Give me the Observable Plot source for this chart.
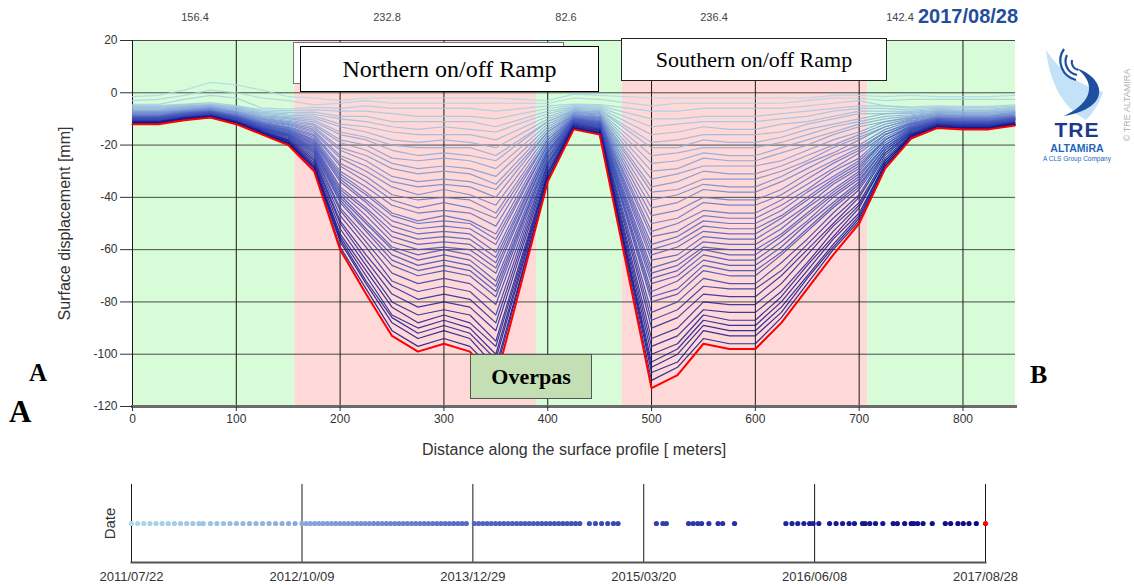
<!DOCTYPE html>
<html><head><meta charset="utf-8">
<script src="https://cdn.jsdelivr.net/npm/d3@7"></script>
<script src="https://cdn.jsdelivr.net/npm/@observablehq/plot@0.6"></script>
<style>
body{margin:0;background:#fff;}
#wrap{position:relative;width:1134px;height:585px;overflow:hidden;font-family:"Liberation Sans",Arial,sans-serif;background:#fff;}
#main{position:absolute;left:0;top:0;}
#timeline{position:absolute;left:0;top:460px;}
.seg{position:absolute;top:11px;font-size:11px;color:#444;transform:translateX(-50%);white-space:nowrap;}
#curdate{position:absolute;left:918px;top:5px;font:bold 20px "Liberation Sans",Arial,sans-serif;color:#1f4e9a;white-space:nowrap;}
.box{position:absolute;box-sizing:border-box;display:flex;align-items:center;justify-content:center;font-family:"Liberation Serif","Times New Roman",serif;color:#000;white-space:nowrap;}
.letter{position:absolute;font-family:"Liberation Serif","Times New Roman",serif;font-weight:bold;color:#000;line-height:1;}
</style></head>
<body><div id="wrap">
<div id="main"></div>
<div id="timeline"></div>
<div class="seg" style="left:195px">156.4</div>
<div class="seg" style="left:387px">232.8</div>
<div class="seg" style="left:566px">82.6</div>
<div class="seg" style="left:714px">236.4</div>
<div class="seg" style="left:900px">142.4</div>
<div id="curdate">2017/08/28</div>
<div class="box" style="left:293px;top:42px;width:271px;height:42px;border:1px solid #777;background:#fff;"></div>
<div class="box" style="left:300px;top:46px;width:299px;height:46px;border:1.5px solid #000;background:#fff;font-size:24px;">Northern on/off Ramp</div>
<div class="box" style="left:621px;top:38px;width:266px;height:43px;border:1px solid #222;background:#fff;font-size:22px;">Southern on/off Ramp</div>
<div class="box" style="left:470px;top:354px;width:122px;height:45px;border:1px solid #555;background:#c5dfb5;font-size:22px;font-weight:bold;">Overpas</div>
<div class="letter" style="left:29px;top:360px;font-size:25px;">A</div>
<div class="letter" style="left:9px;top:396px;font-size:31px;">A</div>
<div class="letter" style="left:1030px;top:362px;font-size:26px;">B</div>
<svg style="position:absolute;left:1020px;top:30px" width="114" height="140" viewBox="0 0 114 140">
  <path d="M26,20 C30,55 44,78 66,90 C74,82 80,72 83,62 C62,56 40,42 26,20 Z" fill="#c3e2f7"/>
  <path d="M56,38 C86,48 92,78 44,86 C74,72 76,52 56,38 Z" fill="#1f4fa0"/>
  <path d="M52,30 A8,8 0 0 0 58,40" fill="none" stroke="#1f4fa0" stroke-width="2.2"/>
  <path d="M47,25 A14,14 0 0 0 57,45" fill="none" stroke="#1f4fa0" stroke-width="2.2"/>
  <path d="M44,19 A20,20 0 0 0 56,50" fill="none" stroke="#1f4fa0" stroke-width="2.2"/>
  <text x="57" y="107" text-anchor="middle" font-family="Liberation Sans, Arial" font-weight="bold" font-size="21" fill="#1b3a8c" letter-spacing="1">TRE</text>
  <text x="57" y="122" text-anchor="middle" font-family="Liberation Sans, Arial" font-weight="bold" font-size="10.5" fill="#2466b8">ALTAMiRA</text>
  <text x="57" y="131" text-anchor="middle" font-family="Liberation Sans, Arial" font-size="6.5" fill="#2466b8">A CLS Group Company</text>
  <text transform="translate(110,75) rotate(-90)" text-anchor="middle" font-family="Liberation Sans, Arial" font-size="9" fill="#b3b3b3">© TRE ALTAMIRA</text>
</svg>
</div>
<script>
// ---------- data ----------
const segmentLengths = [156.4, 232.8, 82.6, 236.4, 142.4];
const segmentKinds = ["stable", "ramp", "stable", "ramp", "stable"];
const distanceTicks = [0, 100, 200, 300, 400, 500, 600, 700, 800];
const displacementTicks = [20, 0, -20, -40, -60, -80, -100, -120];
const dateTicks = ["2011-07-22", "2012-10-09", "2013-12-29", "2015-03-20", "2016-06-08", "2017-08-28"];

const distances = [0,25,50,75,100,125,150,175,200,225,250,275,300,325,350,400,425,450,500,525,550,575,600,625,650,675,700,725,750,775,800,825,850];

const profileDates = ["2011-07-22","2011-09-08","2011-10-26","2011-12-13","2012-01-25","2012-03-18","2012-05-08","2012-06-28","2012-08-18","2012-10-09",
"2012-11-22","2013-01-05","2013-02-18","2013-04-03","2013-05-17","2013-06-30","2013-08-13","2013-09-26","2013-11-09","2013-12-12",
"2014-01-24","2014-03-09","2014-04-22","2014-06-05","2014-07-19","2014-08-21","2014-09-23","2014-10-29","2014-11-30","2014-12-16",
"2015-01-12","2015-05-18","2015-09-06","2016-04-10","2016-06-04","2016-08-03","2016-10-11","2016-12-03","2017-01-29","2017-03-18",
"2017-06-17","2017-08-28"];

// displacement [mm] at each distance (rows) for each profile date (columns)
const displacementAtDistance = [
[-1.5,-3,-4.4,-4.9,-5.3,-5.6,-5.9,-6.2,-6.5,-6.8,-7.1,-7.3,-7.5,-7.7,-8,-8.2,-8.4,-8.6,-8.8,-8.9,-9.1,-9.2,-9.4,-9.5,-9.6,-9.8,-9.9,-10,-10.2,-10.3,-10.4,-10.6,-10.8,-10.9,-11.1,-11.3,-11.4,-11.5,-11.6,-11.7,-11.9,-12],
[-1,-2.5,-4.4,-4.9,-5.3,-5.6,-5.9,-6.2,-6.5,-6.8,-7.1,-7.3,-7.5,-7.7,-8,-8.2,-8.4,-8.6,-8.8,-8.9,-9.1,-9.2,-9.4,-9.5,-9.6,-9.8,-9.9,-10,-10.2,-10.3,-10.4,-10.6,-10.8,-10.9,-11.1,-11.3,-11.4,-11.5,-11.6,-11.7,-11.9,-12],
[1,-1,-2.5,-4.3,-4.6,-4.9,-5.2,-5.5,-5.7,-5.9,-6.2,-6.4,-6.6,-6.8,-7,-7.1,-7.4,-7.5,-7.7,-7.8,-7.9,-8.1,-8.2,-8.3,-8.4,-8.6,-8.7,-8.8,-8.9,-9,-9.1,-9.2,-9.4,-9.6,-9.7,-9.8,-10,-10.1,-10.2,-10.3,-10.4,-10.5],
[4,1,-1,-3.8,-4.2,-4.5,-4.7,-4.9,-5.2,-5.4,-5.6,-5.8,-5.9,-6.1,-6.3,-6.5,-6.7,-6.8,-6.9,-7.1,-7.2,-7.3,-7.4,-7.5,-7.6,-7.7,-7.8,-7.9,-8,-8.1,-8.2,-8.4,-8.5,-8.6,-8.8,-8.9,-9,-9.1,-9.2,-9.3,-9.4,-9.5],
[3,0,-2,-4.9,-5.3,-5.6,-5.9,-6.2,-6.5,-6.8,-7.1,-7.3,-7.5,-7.7,-8,-8.2,-8.4,-8.6,-8.8,-8.9,-9.1,-9.2,-9.4,-9.5,-9.6,-9.8,-9.9,-10,-10.2,-10.3,-10.4,-10.6,-10.8,-10.9,-11.1,-11.3,-11.4,-11.5,-11.6,-11.7,-11.9,-12],
[1,-2,-5.9,-6.5,-7,-7.5,-7.9,-8.3,-8.7,-9,-9.4,-9.8,-10,-10.3,-10.6,-10.9,-11.2,-11.4,-11.7,-11.9,-12.1,-12.3,-12.5,-12.6,-12.8,-13,-13.2,-13.4,-13.5,-13.7,-13.9,-14.1,-14.3,-14.6,-14.8,-15,-15.2,-15.4,-15.5,-15.6,-15.8,-16],
[-1.5,-3,-6.2,-6.8,-7.5,-8.1,-8.6,-9.1,-9.6,-10,-10.5,-10.9,-11.3,-11.7,-12.1,-12.4,-12.9,-13.2,-13.5,-13.9,-14.2,-14.4,-14.7,-14.9,-15.2,-15.5,-15.7,-16,-16.2,-16.5,-16.7,-17,-17.4,-17.8,-18.1,-18.4,-18.7,-19,-19.2,-19.4,-19.7,-20],
[-2,-4.6,-5.6,-6.5,-7.4,-8.2,-8.9,-9.7,-10.4,-11.1,-11.9,-12.5,-13.2,-13.9,-14.6,-15.2,-15.9,-16.5,-17.1,-17.8,-18.3,-18.8,-19.3,-19.7,-20.2,-20.8,-21.2,-21.7,-22.2,-22.7,-23.2,-23.9,-24.6,-25.3,-26,-26.7,-27.3,-27.9,-28.4,-28.8,-29.4,-30],
[-3,-4,-6,-7,-9,-10,-12,-13,-15,-16,-18,-19,-21,-22,-24,-25,-27,-28,-30,-31,-32,-33,-34,-36,-37,-38,-39,-40,-41,-42,-44,-45,-47,-49,-50,-52,-54,-55,-56,-57,-59,-60],
[-2,-3,-5,-7,-9,-11,-13,-15,-17,-18,-20,-22,-24,-26,-28,-30,-32,-34,-36,-38,-39,-41,-42,-44,-45,-47,-49,-50,-52,-53,-55,-57,-59,-62,-64,-66,-68,-70,-72,-73,-75,-77],
[-2,-4,-6,-8,-11,-13,-15,-18,-20,-22,-25,-27,-29,-32,-34,-36,-39,-41,-43,-46,-47,-49,-51,-53,-55,-57,-59,-60,-62,-64,-66,-69,-72,-74,-77,-80,-82,-85,-86,-88,-91,-93],
[-2,-4,-6,-9,-11,-14,-16,-19,-21,-24,-26,-29,-31,-34,-36,-39,-41,-44,-46,-49,-50,-52,-54,-56,-58,-60,-62,-64,-66,-68,-70,-73,-76,-79,-82,-85,-88,-90,-92,-94,-97,-99],
[-2,-4,-6,-9,-11,-13,-16,-18,-21,-23,-25,-28,-30,-33,-35,-37,-40,-42,-45,-47,-49,-51,-53,-55,-57,-59,-60,-62,-64,-66,-68,-71,-74,-77,-80,-83,-85,-87,-89,-91,-94,-96],
[-2,-4,-6,-9,-11,-14,-16,-19,-21,-24,-26,-29,-31,-34,-36,-39,-41,-44,-46,-49,-50,-52,-54,-56,-58,-60,-62,-64,-66,-68,-70,-73,-76,-79,-82,-85,-88,-90,-92,-94,-97,-99],
[-2,-4,-7,-10,-13,-15,-18,-21,-24,-26,-29,-32,-35,-37,-40,-43,-46,-48,-51,-54,-56,-58,-61,-63,-65,-67,-69,-72,-74,-76,-78,-81,-85,-88,-91,-95,-97,-100,-102,-105,-107,-110],
[-3,-4,-5,-6,-7,-8,-9,-10,-11,-11,-12,-13,-14,-15,-15,-16,-17,-18,-18,-19,-20,-20,-21,-22,-22,-23,-23,-24,-25,-25,-26,-27,-27,-28,-29,-30,-31,-31,-32,-33,-33,-34],
[-0.5,-2,-4.3,-4.8,-5.3,-5.7,-6,-6.4,-6.7,-7,-7.4,-7.6,-7.9,-8.2,-8.5,-8.7,-9,-9.2,-9.5,-9.7,-9.9,-10.1,-10.3,-10.4,-10.6,-10.8,-11,-11.2,-11.4,-11.5,-11.7,-11.9,-12.2,-12.4,-12.7,-12.9,-13.1,-13.3,-13.5,-13.6,-13.8,-14],
[-1,-2.5,-4.5,-5,-5.5,-5.9,-6.4,-6.7,-7.2,-7.5,-7.9,-8.2,-8.5,-8.9,-9.2,-9.5,-9.8,-10.1,-10.4,-10.7,-10.9,-11.2,-11.4,-11.6,-11.8,-12.1,-12.3,-12.5,-12.7,-12.9,-13.1,-13.4,-13.7,-14,-14.3,-14.6,-14.9,-15.1,-15.3,-15.5,-15.8,-16],
[-2,-5,-7,-10,-13,-16,-19,-21,-24,-27,-30,-33,-36,-38,-41,-44,-47,-50,-53,-55,-58,-60,-62,-64,-67,-69,-71,-73,-76,-78,-80,-84,-87,-90,-94,-97,-100,-103,-105,-107,-110,-113],
[-2,-4,-7,-10,-12,-15,-18,-21,-23,-26,-29,-31,-34,-37,-39,-42,-45,-48,-50,-53,-55,-57,-59,-62,-64,-66,-68,-70,-72,-75,-77,-80,-83,-86,-90,-93,-96,-98,-100,-103,-105,-108],
[-2,-4,-6,-9,-11,-13,-16,-18,-21,-23,-25,-28,-30,-33,-35,-37,-40,-42,-45,-47,-49,-51,-53,-55,-57,-59,-60,-62,-64,-66,-68,-71,-74,-77,-80,-83,-85,-87,-89,-91,-94,-96],
[-2,-4,-6,-9,-11,-14,-16,-19,-21,-24,-26,-28,-31,-33,-36,-38,-41,-43,-46,-48,-50,-52,-54,-56,-58,-60,-62,-64,-66,-68,-70,-73,-75,-78,-81,-84,-87,-89,-91,-93,-96,-98],
[-2,-4,-6,-9,-11,-14,-16,-19,-21,-24,-26,-28,-31,-33,-36,-38,-41,-43,-46,-48,-50,-52,-54,-56,-58,-60,-62,-64,-66,-68,-70,-73,-75,-78,-81,-84,-87,-89,-91,-93,-96,-98],
[-2,-4,-6,-8,-10,-12,-15,-17,-19,-21,-23,-26,-28,-30,-32,-34,-37,-39,-41,-43,-45,-47,-48,-50,-52,-54,-55,-57,-59,-61,-62,-65,-68,-70,-73,-76,-78,-80,-82,-84,-86,-88],
[-2,-3,-5,-7,-9,-11,-12,-14,-16,-18,-20,-22,-24,-26,-27,-29,-31,-33,-35,-37,-38,-40,-41,-43,-44,-46,-47,-49,-50,-52,-53,-56,-58,-60,-62,-65,-66,-68,-70,-71,-73,-75],
[-1,-2,-4,-6,-7,-9,-10,-12,-13,-15,-16,-18,-20,-21,-23,-24,-26,-27,-29,-30,-32,-33,-34,-35,-37,-38,-39,-40,-42,-43,-44,-46,-48,-50,-51,-53,-55,-56,-58,-59,-60,-62],
[-1,-2,-3,-5,-6,-7,-8,-10,-11,-12,-13,-15,-16,-17,-18,-20,-21,-22,-23,-25,-26,-27,-28,-29,-30,-31,-32,-33,-34,-35,-36,-37,-39,-40,-42,-43,-44,-46,-47,-48,-49,-50],
[-1.5,-3,-5,-5,-6,-7,-8,-8,-9,-10,-11,-11,-12,-13,-13,-14,-15,-15,-16,-16,-17,-18,-18,-18,-19,-20,-20,-21,-21,-22,-22,-23,-23,-24,-25,-26,-26,-27,-27,-28,-28,-29],
[-1,-2.5,-5.4,-6,-6.6,-7.1,-7.5,-7.9,-8.4,-8.8,-9.2,-9.6,-9.9,-10.2,-10.6,-10.9,-11.3,-11.6,-11.8,-12.1,-12.4,-12.6,-12.8,-13.1,-13.3,-13.5,-13.8,-14,-14.2,-14.4,-14.6,-14.9,-15.2,-15.5,-15.8,-16.1,-16.4,-16.6,-16.8,-17,-17.3,-17.5],
[-1.5,-2.5,-5,-5.5,-5.9,-6.3,-6.7,-7,-7.4,-7.6,-8,-8.2,-8.4,-8.7,-9,-9.2,-9.5,-9.7,-9.9,-10.1,-10.2,-10.4,-10.5,-10.7,-10.8,-11,-11.1,-11.3,-11.4,-11.6,-11.7,-11.9,-12.1,-12.3,-12.5,-12.7,-12.8,-13,-13.1,-13.2,-13.4,-13.5],
[-1.5,-2.5,-5.2,-5.7,-6.2,-6.6,-6.9,-7.3,-7.6,-7.9,-8.3,-8.5,-8.8,-9,-9.3,-9.5,-9.8,-10,-10.2,-10.4,-10.6,-10.8,-10.9,-11.1,-11.2,-11.4,-11.6,-11.7,-11.8,-12,-12.1,-12.3,-12.5,-12.7,-12.9,-13.1,-13.3,-13.4,-13.6,-13.7,-13.9,-14],
[-1.5,-2.5,-5.2,-5.7,-6.2,-6.6,-6.9,-7.3,-7.6,-7.9,-8.3,-8.5,-8.8,-9,-9.3,-9.5,-9.8,-10,-10.2,-10.4,-10.6,-10.8,-10.9,-11.1,-11.2,-11.4,-11.6,-11.7,-11.8,-12,-12.1,-12.3,-12.5,-12.7,-12.9,-13.1,-13.3,-13.4,-13.6,-13.7,-13.9,-14],
[-1,-2.5,-4.6,-5.1,-5.5,-5.9,-6.2,-6.5,-6.8,-7.1,-7.4,-7.6,-7.8,-8.1,-8.3,-8.5,-8.8,-8.9,-9.1,-9.3,-9.5,-9.6,-9.8,-9.9,-10,-10.2,-10.3,-10.4,-10.6,-10.7,-10.8,-11,-11.2,-11.4,-11.6,-11.7,-11.9,-12,-12.1,-12.2,-12.4,-12.5]
];

const acquisitionDates = [
"2011-07-22","2011-08-07","2011-08-23","2011-09-08","2011-09-24","2011-10-10","2011-10-26","2011-11-11","2011-11-27","2011-12-13","2011-12-29","2012-01-14","2012-01-25",
"2012-02-13","2012-03-01","2012-03-18","2012-04-04","2012-04-21","2012-05-08","2012-05-25","2012-06-11","2012-06-28","2012-07-15","2012-08-01","2012-08-18","2012-09-04","2012-09-21",
"2012-10-09","2012-10-20","2012-10-31","2012-11-11","2012-11-22","2012-12-03","2012-12-14","2012-12-25","2013-01-05","2013-01-16","2013-01-27","2013-02-07","2013-02-18","2013-03-01",
"2013-03-12","2013-03-23","2013-04-03","2013-04-14","2013-04-25","2013-05-06","2013-05-17","2013-05-28","2013-06-08","2013-06-19","2013-06-30","2013-07-11","2013-07-22","2013-08-02",
"2013-08-13","2013-08-24","2013-09-04","2013-09-15","2013-09-26","2013-10-07","2013-10-18","2013-10-29","2013-11-09","2013-11-20","2013-12-01","2013-12-12",
"2014-01-02","2014-01-13","2014-01-24","2014-02-04","2014-02-15","2014-02-26","2014-03-09","2014-03-20","2014-03-31","2014-04-11","2014-04-22","2014-05-03","2014-05-14",
"2014-05-25","2014-06-05","2014-06-16","2014-06-27","2014-07-08","2014-07-19","2014-07-30","2014-08-10","2014-08-21","2014-09-01","2014-09-12","2014-09-23","2014-10-04",
"2014-10-29","2014-11-14","2014-11-30","2014-12-16","2014-12-31","2015-01-12",
"2015-04-22","2015-05-09","2015-05-18","2015-07-15","2015-07-27","2015-08-08","2015-08-18","2015-09-06","2015-09-30","2015-10-12","2015-11-12",
"2016-03-25","2016-04-10","2016-04-25","2016-05-11","2016-05-26","2016-06-04","2016-06-19","2016-07-17","2016-08-03","2016-08-20","2016-09-06","2016-09-20",
"2016-10-11","2016-10-18","2016-10-30","2016-11-14","2016-12-03","2016-12-30","2017-01-10","2017-01-29","2017-02-15","2017-02-22","2017-03-04","2017-03-18",
"2017-04-11","2017-05-15","2017-05-29","2017-06-17","2017-07-01","2017-07-16","2017-08-04","2017-08-28"];

// ---------- styles ----------
const rampColors = ["#acd9ea", "#8aa8da", "#5466c6", "#3343ae", "#1b2096", "#0a0a84"];
const latestColor = "#ff0000";
const fontStack = "'Liberation Sans', Arial, sans-serif";

// ---------- build ----------
let acc = 0;
const segments = segmentLengths.map((len, i) => { const s = {start: acc, end: acc + len, kind: segmentKinds[i]}; acc += len; return s; });
const xMax = acc;
const parse = s => new Date(s + "T00:00:00Z");
const t0 = parse(acquisitionDates[0]);
const t1 = parse(acquisitionDates[acquisitionDates.length - 1]);
const colorOf = d3.scaleSequential([t0, t1], d3.piecewise(d3.interpolateRgb, rampColors));
const last = profileDates.length - 1;
const rows = profileDates.flatMap((ds, i) => distances.map((x, j) => ({idx: i, date: parse(ds), x, y: displacementAtDistance[j][i]})));

const main = Plot.plot({
  width: 1134, height: 460,
  marginTop: 40, marginBottom: 54, marginLeft: 132, marginRight: 119,
  style: {background: "transparent", fontFamily: fontStack, fontSize: "12px", color: "#333"},
  x: {domain: [0, xMax]},
  y: {domain: [d3.min(displacementTicks), d3.max(displacementTicks)]},
  color: {type: "identity"},
  marks: [
    Plot.rect(segments, {x1: "start", x2: "end", fill: d => d.kind === "ramp" ? "#ffd8d8" : "#d8fcd8"}),
    Plot.ruleY(displacementTicks, {stroke: "#4a4a4a", strokeWidth: 1}),
    Plot.ruleX(distanceTicks, {stroke: "#1a1a1a", strokeWidth: 1}),
    Plot.line(rows.filter(r => r.idx < last), {x: "x", y: "y", z: "idx", stroke: d => colorOf(d.date), strokeWidth: 1.2, strokeOpacity: 0.85}),
    Plot.line(rows.filter(r => r.idx === last), {x: "x", y: "y", stroke: latestColor, strokeWidth: 2}),
    Plot.frame({anchor: "bottom", stroke: "#6b6b6b", strokeWidth: 3}),
    Plot.axisX(distanceTicks, {tickSize: 5, tickPadding: 3, fontSize: 12, label: null, tickFormat: d => String(d)}),
    Plot.axisY(displacementTicks, {tickSize: 12, tickPadding: 3, fontSize: 12, label: null, tickFormat: d => String(d)}),
    Plot.text(["Distance along the surface profile [ meters]"], {frameAnchor: "bottom", dy: 48, fontSize: 16, fill: "#333"}),
    Plot.text(["Surface displacement [mm]"], {frameAnchor: "left", rotate: -90, dx: -68, textAnchor: "middle", fontSize: 16, fill: "#333"})
  ]
});
document.getElementById("main").appendChild(main);

const timeline = Plot.plot({
  width: 1134, height: 125,
  marginTop: 24, marginBottom: 23, marginLeft: 131, marginRight: 149,
  style: {background: "transparent", fontFamily: fontStack, fontSize: "13px", color: "#333"},
  x: {type: "utc", domain: [t0, t1]},
  color: {type: "identity"},
  marks: [
    Plot.ruleX(dateTicks.map(parse), {stroke: "#1a1a1a", strokeWidth: 1}),
    Plot.frame({anchor: "bottom", stroke: "#555", strokeWidth: 2}),
    Plot.dot(acquisitionDates.map(parse), {x: d => d, r: 2.6, fill: d => +d === +t1 ? latestColor : colorOf(d), stroke: "none"}),
    Plot.axisX(dateTicks.map(parse), {tickSize: 0, tickPadding: 9, fontSize: 13, label: null, tickFormat: d3.utcFormat("%Y/%m/%d")}),
    Plot.text(["Date"], {frameAnchor: "left", rotate: -90, dx: -21, textAnchor: "middle", fontSize: 15, fill: "#333"})
  ]
});
document.getElementById("timeline").appendChild(timeline);
</script>
</body></html>
